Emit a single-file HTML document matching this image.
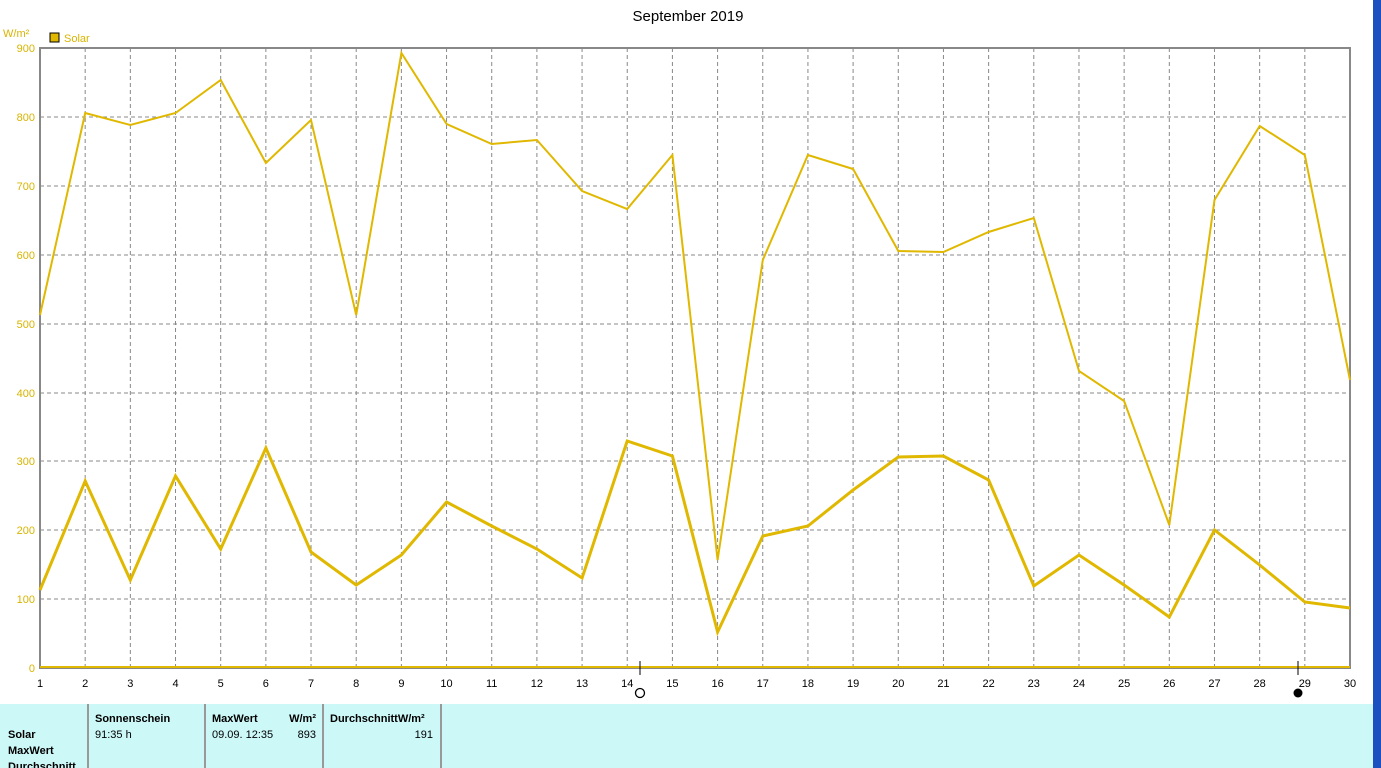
<!DOCTYPE html>
<html><head><meta charset="utf-8"><style>
body{margin:0;width:1381px;height:768px;overflow:hidden;background:#fff;font-family:"Liberation Sans",sans-serif}
svg{position:absolute;left:0;top:0}
</style></head><body>
<svg width="1381" height="768" xmlns="http://www.w3.org/2000/svg" font-family="Liberation Sans, sans-serif">
<rect x="1373" y="0" width="8" height="768" fill="#1a50c0"/>
<text x="688" y="21" font-size="15" text-anchor="middle" fill="#000">September 2019</text>
<text x="3" y="37" font-size="11" fill="#d8b400">W/m²</text>
<rect x="50" y="33" width="9" height="9" fill="#e0b800" stroke="#000" stroke-width="1"/>
<text x="64" y="42" font-size="11" fill="#d8b400">Solar</text>
<g stroke="#888" stroke-dasharray="4,3" stroke-width="1">
<line x1="40" x2="1350" y1="117" y2="117"/><line x1="40" x2="1350" y1="186" y2="186"/>
<line x1="40" x2="1350" y1="255" y2="255"/><line x1="40" x2="1350" y1="324" y2="324"/>
<line x1="40" x2="1350" y1="393" y2="393"/><line x1="40" x2="1350" y1="461" y2="461"/>
<line x1="40" x2="1350" y1="530" y2="530"/><line x1="40" x2="1350" y1="599" y2="599"/>
<g id="vg"></g>
</g>
<g id="vlines" stroke="#888" stroke-dasharray="4,3"></g>
<rect x="40" y="48" width="1310" height="620" fill="none" stroke="#888" stroke-width="2"/>
<g font-size="11" fill="#d8b400" text-anchor="end">
<text x="35" y="52">900</text><text x="35" y="121">800</text><text x="35" y="190">700</text>
<text x="35" y="259">600</text><text x="35" y="328">500</text><text x="35" y="397">400</text>
<text x="35" y="465">300</text><text x="35" y="534">200</text><text x="35" y="603">100</text>
<text x="35" y="672">0</text></g>
<g id="xl" font-size="11" fill="#000" text-anchor="middle"></g>
<line x1="40" x2="1350" y1="667" y2="667" stroke="#e0b800" stroke-width="2"/>
<polyline id="up" fill="none" stroke="#e0b800" stroke-width="2"/>
<polyline id="lo" fill="none" stroke="#e0b800" stroke-width="3"/>
<line x1="640" x2="640" y1="661" y2="675" stroke="#000"/>
<circle cx="640" cy="693" r="4.5" fill="none" stroke="#000" stroke-width="1.3"/>
<line x1="1298" x2="1298" y1="661" y2="675" stroke="#000"/>
<circle cx="1298" cy="693" r="4.5" fill="#000"/>
<rect x="0" y="704" width="1373" height="64" fill="#ccf8f8"/>
<g stroke="#999" stroke-width="2"><line x1="88" x2="88" y1="704" y2="768"/><line x1="205" x2="205" y1="704" y2="768"/><line x1="323" x2="323" y1="704" y2="768"/><line x1="441" x2="441" y1="704" y2="768"/></g>
<g font-size="11" fill="#000">
<text x="8" y="738" font-weight="bold">Solar</text>
<text x="8" y="754" font-weight="bold">MaxWert</text>
<text x="8" y="770" font-weight="bold">Durchschnitt</text>
<text x="95" y="722" font-weight="bold">Sonnenschein</text>
<text x="95" y="738">91:35 h</text>
<text x="212" y="722" font-weight="bold">MaxWert</text>
<text x="316" y="722" font-weight="bold" text-anchor="end">W/m²</text>
<text x="212" y="738">09.09.  12:35</text>
<text x="316" y="738" text-anchor="end">893</text>
<text x="330" y="722" font-weight="bold">DurchschnittW/m²</text>
<text x="433" y="738" text-anchor="end">191</text>
</g>
</svg>
<script>
var up=[315,113,125,113,80,163,120,315,53,124,144,140,191,209,155,560,260,155,169,251,252,232,218,371,401,525,200,126,155,380];
var lo=[590,481,580,476,549,448,552,585,555,502,526,549,578,441,456,632,536,526,490,457,456,480,586,555,585,617,530,565,602,608];
var ns="http://www.w3.org/2000/svg",s=1310/29,pu=[],pl=[];
var vl=document.getElementById('vlines'),xl=document.getElementById('xl');
for(var i=0;i<30;i++){var x=40+i*s;pu.push(x.toFixed(1)+','+up[i]);pl.push(x.toFixed(1)+','+lo[i]);
if(i>0&&i<29){var l=document.createElementNS(ns,'line');l.setAttribute('x1',x);l.setAttribute('x2',x);l.setAttribute('y1',48);l.setAttribute('y2',668);vl.appendChild(l);}
var t=document.createElementNS(ns,'text');t.setAttribute('x',x);t.setAttribute('y',687);t.textContent=i+1;xl.appendChild(t);}
document.getElementById('up').setAttribute('points',pu.join(' '));
document.getElementById('lo').setAttribute('points',pl.join(' '));
</script>
</body></html>
